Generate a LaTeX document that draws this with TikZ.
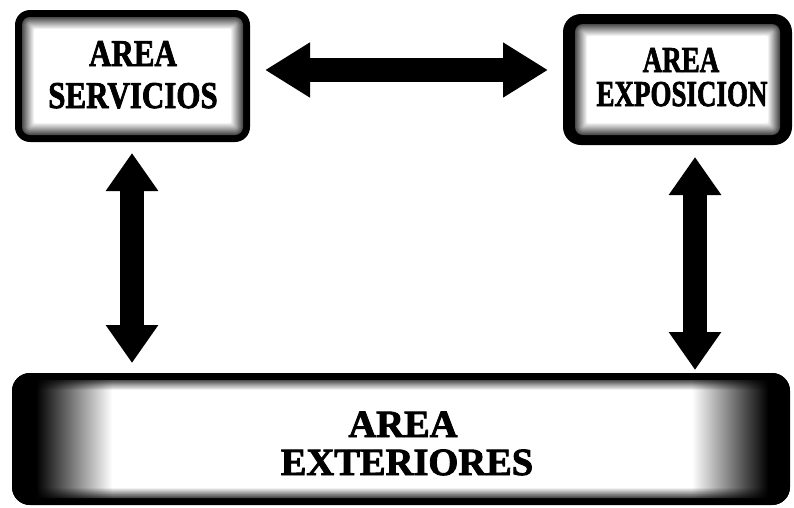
\documentclass[tikz,border=0pt]{standalone}
\usepackage{fontspec}
\setmainfont{Liberation Serif}
\newfontfamily\heavyfont{Liberation Serif}[UprightFeatures={FakeBold=2.2},BoldFeatures={FakeBold=2.2}]
\usetikzlibrary{arrows.meta,calc,fadings}
\newcommand\fuzzbox[8]{%
  \fill[black, rounded corners=#5pt] (#1,#2) rectangle (#3,#4);
  \foreach \k in {0,...,12}{%
    \pgfmathsetmacro\dx{#6+\k*#8/12}%
    \pgfmathsetmacro\dy{#7+\k*#8/12}%
    \pgfmathsetmacro\rr{max(#5-min(\dx,\dy),2)}%
    \pgfmathsetmacro\cc{70*(1-\k/12)}%
    \fill[black!\cc, rounded corners=\rr pt] (#1+\dx,#2+\dy) rectangle (#3-\dx,#4-\dy);
  }%
}
\begin{document}
\begin{tikzpicture}[x=1pt,y=-1pt,
  region/.style={inner sep=0pt, outer sep=0pt, draw=none},
  lbl/.style={inner sep=0pt, anchor=base, text=black},
  harrow/.style={line width=24pt, arrows={Triangle[length=45pt,width=52pt]-Triangle[length=45pt,width=52pt]}},
  varrow/.style={line width=24pt, arrows={Triangle[length=38pt,width=50pt]-Triangle[length=38pt,width=50pt]}}]
\useasboundingbox (0,0) rectangle (794,507);
\fill[white] (0,0) rectangle (794,507);

% box graphics
\fuzzbox{15}{10}{250}{142}{15}{7}{7}{12}
\fuzzbox{563}{14}{792}{145}{18}{12}{10}{12}
\fuzzbox{12}{373}{790}{505}{18}{7}{7}{10}
\begin{scope}
  \clip[rounded corners=18pt] (12,373) rectangle (790,505);
  \fill[black] (12,373) rectangle (36,505);
  \fill[black, path fading=east] (36,373) rectangle (112,505);
  \fill[black] (768,373) rectangle (790,505);
  \fill[black, path fading=west] (692,373) rectangle (768,505);
\end{scope}

% named regions
\node[region, minimum width=235pt, minimum height=132pt] (serv) at (132.5,76) {};
\node[region, minimum width=229pt, minimum height=131pt] (expo) at (677.5,79.5) {};
\node[region, minimum width=778pt, minimum height=132pt] (ext) at (401,439) {};

% texts
\node[lbl, font=\fontsize{31}{31}\heavyfont\bfseries] (s1) at (133,66) {\scalebox{1}[1.22]{AREA}};
\node[lbl, font=\fontsize{31}{31}\heavyfont\bfseries] (s2) at (133,108) {\scalebox{1}[1.22]{SERVICIOS}};
\node[lbl, font=\fontsize{27}{27}\heavyfont\bfseries] (e1) at (681,72) {\scalebox{1}[1.35]{AREA}};
\node[lbl, font=\fontsize{27}{27}\heavyfont\bfseries] (e2) at (682,106) {\scalebox{1}[1.35]{EXPOSICION}};
\node[lbl, font=\fontsize{38.5}{38.5}\heavyfont\bfseries] (x1) at (403,437) {AREA};
\node[lbl, font=\fontsize{38.5}{38.5}\heavyfont\bfseries] (x2) at (407,475) {EXTERIORES};

% arrows
\draw[harrow] ($(serv.east)+(15,-6)$) -- ($(expo.west)+(-15,-9.5)$);
\draw[varrow] ($(serv.south)+(-0.5,11)$) -- ($(serv.south |- ext.north)+(-0.5,-10)$);
\draw[varrow] ($(expo.south)+(17.5,12)$) -- ($(expo.south |- ext.north)+(17.5,-3)$);
\end{tikzpicture}
\end{document}
